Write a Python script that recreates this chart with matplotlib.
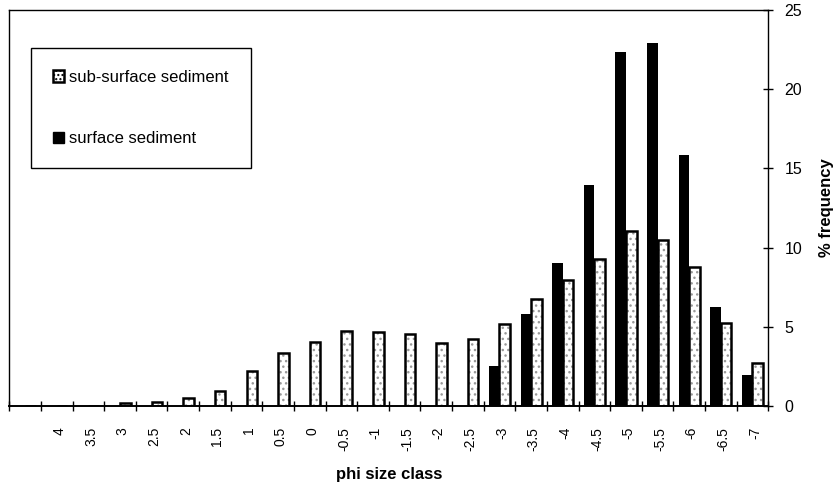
import matplotlib.pyplot as plt
from matplotlib.patches import Patch
import numpy as np

plt.rcParams['font.family'] = ['Liberation Sans', 'DejaVu Sans']

# phi size classes (first class has no label on the original)
phi_labels = ['', '4', '3.5', '3', '2.5', '2', '1.5', '1', '0.5', '0', '-0.5', '-1',
              '-1.5', '-2', '-2.5', '-3', '-3.5', '-4', '-4.5', '-5', '-5.5', '-6',
              '-6.5', '-7']
sub_surface = [0, 0, 0, 0.2, 0.25, 0.5, 0.95, 2.2, 3.35, 4.05, 4.75, 4.65,
               4.55, 3.95, 4.25, 5.15, 6.75, 7.95, 9.3, 11.05, 10.45, 8.75,
               5.25, 2.7]
surface = [0, 0, 0, 0, 0, 0, 0, 0, 0, 0, 0, 0,
           0, 0, 0, 2.55, 5.8, 9.05, 13.95, 22.35, 22.9, 15.85,
           6.25, 1.95]

x = np.arange(len(phi_labels))
w = 0.335

fig = plt.figure(figsize=(8.34, 4.93), dpi=100)
ax = fig.add_axes([0.0112, 0.1765, 0.91, 0.8032])

ax.bar(x - w / 2, surface, w, color='black', linewidth=0)
# sub-surface: dotted fill, then a thick black outline on top
ax.bar(x + w / 2, sub_surface, w, color='white', edgecolor='0.6',
       hatch='...', linewidth=0)
ax.bar(x + w / 2, sub_surface, w, facecolor='none', edgecolor='black',
       linewidth=1.8)

ax.set_xlim(-0.5, len(phi_labels) - 0.5)
ax.set_ylim(0, 25)

ax.set_xticks(x + 0.08)
ax.set_xticklabels(phi_labels, rotation=90, fontsize=10, va='top')
ax.set_xticks(np.arange(len(phi_labels) + 1) - 0.5, minor=True)
ax.tick_params(axis='x', which='major', length=0, pad=15)
ax.tick_params(axis='x', which='minor', direction='inout', length=7, width=1)

ax.yaxis.tick_right()
ax.yaxis.set_label_position('right')
ax.set_yticks([0, 5, 10, 15, 20, 25])
ax.tick_params(axis='y', direction='inout', length=7, width=1, labelsize=11.5,
               pad=8)
ax.tick_params(axis='y', which='both', left=False)

ax.set_xlabel('phi size class', fontsize=12, fontweight='bold', labelpad=12)
ax.set_ylabel('% frequency', fontsize=12, fontweight='bold', labelpad=12.5)

for s in ax.spines.values():
    s.set_linewidth(1.0)
ax.spines['bottom'].set_linewidth(1.4)

handles = [Patch(facecolor='white', edgecolor='black', hatch='....',
                 linewidth=1.8, label='sub-surface sediment'),
           Patch(facecolor='black', edgecolor='black', label='surface sediment')]
leg = ax.legend(handles=handles, loc='upper left',
                bbox_to_anchor=(0.0286, 0.904), borderaxespad=0,
                fontsize=12, frameon=True, fancybox=False, framealpha=1,
                edgecolor='black', borderpad=1.3, labelspacing=2.8,
                handlelength=0.7, handleheight=0.7, handletextpad=0.3)
leg.get_frame().set_linewidth(1.0)

fig.savefig('out.png', dpi=100)
